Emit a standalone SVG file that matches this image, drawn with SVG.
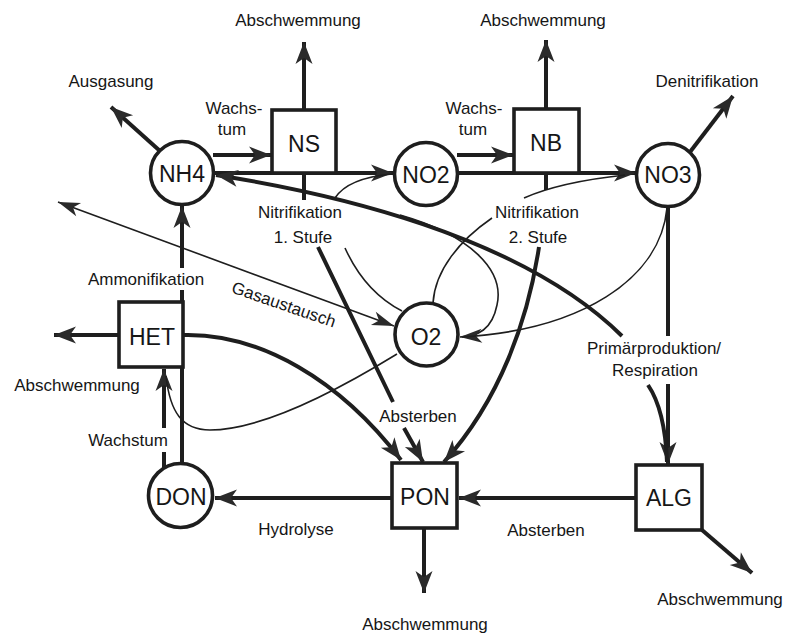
<svg xmlns="http://www.w3.org/2000/svg" width="801" height="635" viewBox="0 0 801 635">
  <style>
    .bg { fill: #ffffff; }
    .thick { fill: none; stroke: #1e1e1e; stroke-width: 4; }
    .thin { fill: none; stroke: #1e1e1e; stroke-width: 1.6; }
    .node { fill: #ffffff; stroke: #1e1e1e; stroke-width: 3.6; }
    .nlabel { font-family: "Liberation Sans", Arial, sans-serif; font-size: 23px; fill: #161616; text-anchor: middle; }
    .label { font-family: "Liberation Sans", Arial, sans-serif; font-size: 17px; fill: #161616; text-anchor: middle; }
  </style>
  <defs>
    <marker id="ah" markerUnits="userSpaceOnUse" markerWidth="24" markerHeight="20" refX="22" refY="10" orient="auto" overflow="visible">
      <path d="M22,10 L0,1.5 L6,10 L0,18.5 Z" fill="#2a2a2a"/>
    </marker>
    <marker id="ahs" markerUnits="userSpaceOnUse" markerWidth="24" markerHeight="20" refX="22" refY="10" orient="auto-start-reverse" overflow="visible">
      <path d="M22,10 L0,3 L6,10 L0,17 Z" fill="#2a2a2a"/>
    </marker>
  </defs>
  <rect class="bg" x="0" y="0" width="801" height="635"/>

  <g id="connectors">
    <!-- outflows -->
    <path class="thick" d="M160,151 L111,107" marker-end="url(#ah)"/>
    <path class="thick" d="M304,110 V42" marker-end="url(#ah)"/>
    <path class="thick" d="M546,109 V40" marker-end="url(#ah)"/>
    <path class="thick" d="M690,152 L733,96" marker-end="url(#ah)"/>
    <path class="thick" d="M119,335 H54" marker-end="url(#ah)"/>
    <path class="thick" d="M424,528 V593" marker-end="url(#ah)"/>
    <path class="thick" d="M702,530 L752,573" marker-end="url(#ah)"/>

    <!-- growth of nitrifiers -->
    <path class="thick" d="M213,155 H271" marker-end="url(#ah)"/>
    <path class="thick" d="M457,155 H513" marker-end="url(#ah)"/>

    <!-- nitrification steps -->
    <path class="thick" d="M214,173 H393" marker-end="url(#ah)"/>
    <path class="thick" d="M458,173 H636" marker-end="url(#ah)"/>
    <path class="thick" d="M304,173 V200"/>
    <path class="thick" d="M546,173 V190"/>
    <path class="thin" d="M335,198 Q348,178 392,174"/>
    <path class="thin" d="M524,198 Q560,182 625,175"/>
    <path class="thin" d="M345,248 Q365,292 402,311"/>
    <path class="thin" d="M492,218 C460,240 435,270 433,303"/>

    <!-- primary production / respiration -->
    <path class="thick" d="M622,336 C520,235 330,193 216,175" marker-end="url(#ah)"/>
    <path class="thick" d="M668,207 V336 M668,384 V464" marker-end="url(#ah)"/>
    <path class="thick" d="M648,385 Q665,410 667,462"/>
    <path class="thin" d="M400,215 C470,235 505,270 497,305 C492,330 478,336 460,337" marker-end="url(#ahs)"/>
    <path class="thin" d="M667,208 C660,280 580,330 462,337"/>

    <!-- gas exchange -->
    <path class="thin" d="M58,202 L394,326" marker-start="url(#ahs)" marker-end="url(#ahs)"/>

    <!-- heterotrophs -->
    <path class="thick" d="M182,464 V290 M182,268 V206" marker-end="url(#ah)"/>
    <path class="thick" d="M164,468 V452 M164,428 V369" marker-end="url(#ah)"/>
    <path class="thin" d="M397,354 C330,395 260,430 210,430 C182,430 170,412 166,376"/>
    <path class="thick" d="M183,335 C260,333 340,380 401,460" marker-end="url(#ah)"/>

    <!-- dying off -->
    <path class="thick" d="M318,247 L393,402 M404,428 L423,462" marker-end="url(#ah)"/>
    <path class="thick" d="M539,247 C528,320 500,400 444,462" marker-end="url(#ah)"/>
    <path class="thick" d="M636,498 H459" marker-end="url(#ah)"/>

    <!-- hydrolysis -->
    <path class="thick" d="M392,498 H215" marker-end="url(#ah)"/>
  </g>

  <g id="NH4">
    <circle class="node" cx="182" cy="173" r="31.5"/>
    <text class="nlabel" x="182" y="182">NH4</text>
  </g>
  <g id="NS">
    <rect class="node" x="272" y="110" width="64" height="63"/>
    <text class="nlabel" x="304" y="152">NS</text>
  </g>
  <g id="NO2">
    <circle class="node" cx="426" cy="174" r="31.5"/>
    <text class="nlabel" x="426" y="183">NO2</text>
  </g>
  <g id="NB">
    <rect class="node" x="514" y="109" width="65" height="64"/>
    <text class="nlabel" x="546" y="151">NB</text>
  </g>
  <g id="NO3">
    <circle class="node" cx="668" cy="175" r="31.5"/>
    <text class="nlabel" x="668" y="183">NO3</text>
  </g>
  <g id="O2">
    <circle class="node" cx="426.5" cy="334.5" r="31.5"/>
    <text class="nlabel" x="426" y="345">O2</text>
  </g>
  <g id="HET">
    <rect class="node" x="119" y="302" width="64" height="65"/>
    <text class="nlabel" x="152" y="345">HET</text>
  </g>
  <g id="DON">
    <circle class="node" cx="180.5" cy="495.5" r="32"/>
    <text class="nlabel" x="181" y="505">DON</text>
  </g>
  <g id="PON">
    <rect class="node" x="392" y="463" width="65" height="65"/>
    <text class="nlabel" x="425" y="505">PON</text>
  </g>
  <g id="ALG">
    <rect class="node" x="636" y="465" width="66" height="65"/>
    <text class="nlabel" x="669" y="506">ALG</text>
  </g>

  <g id="labels">
    <text class="label" x="298" y="26">Abschwemmung</text>
    <text class="label" x="543" y="26">Abschwemmung</text>
    <text class="label" x="111" y="87">Ausgasung</text>
    <text class="label" x="707" y="87">Denitrifikation</text>
    <text class="label" x="234" y="114">Wachs-</text>
    <text class="label" x="232" y="135">tum</text>
    <text class="label" x="474" y="114">Wachs-</text>
    <text class="label" x="473" y="135">tum</text>
    <text class="label" x="300" y="218">Nitrifikation</text>
    <text class="label" x="303" y="243">1. Stufe</text>
    <text class="label" x="537" y="218">Nitrifikation</text>
    <text class="label" x="538" y="243">2. Stufe</text>
    <text class="label" x="146" y="285">Ammonifikation</text>
    <text class="label" x="282" y="310" transform="rotate(19 282 310)">Gasaustausch</text>
    <text class="label" x="77" y="391">Abschwemmung</text>
    <text class="label" x="128" y="446">Wachstum</text>
    <text class="label" x="418" y="422">Absterben</text>
    <text class="label" x="654" y="354">Primärproduktion/</text>
    <text class="label" x="655" y="376">Respiration</text>
    <text class="label" x="296" y="535">Hydrolyse</text>
    <text class="label" x="546" y="536">Absterben</text>
    <text class="label" x="425" y="630">Abschwemmung</text>
    <text class="label" x="720" y="605">Abschwemmung</text>
  </g>
</svg>
